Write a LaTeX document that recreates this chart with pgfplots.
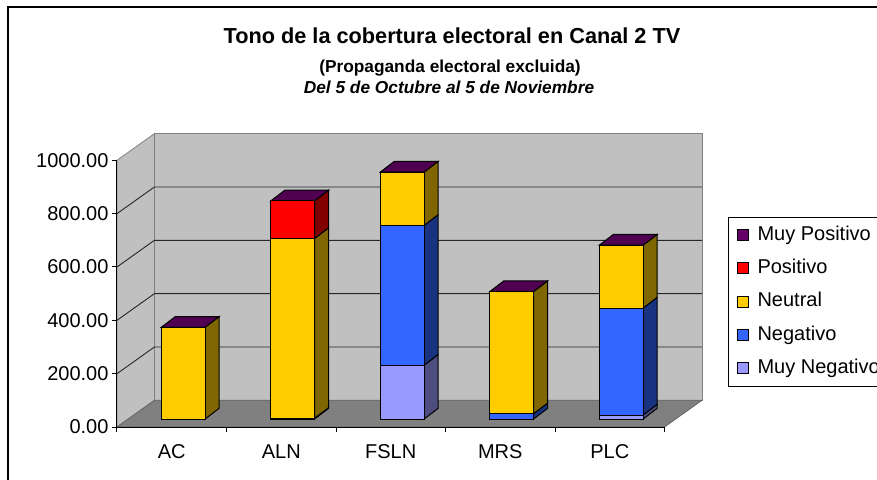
\documentclass[border=0pt]{standalone}
\usepackage{fontspec}
\setmainfont{Liberation Sans}
\usepackage{pgfplots}
\pgfplotsset{compat=1.18}
\usepackage{pgfplotstable}
\usetikzlibrary{calc}

\definecolor{mpos}{HTML}{660066}
\definecolor{mpostop}{HTML}{500050}
\definecolor{pos}{HTML}{FF0000}
\definecolor{posd}{HTML}{800000}
\definecolor{neu}{HTML}{FFCC00}
\definecolor{neud}{HTML}{806600}
\definecolor{neg}{HTML}{3366FF}
\definecolor{negd}{HTML}{1A3380}
\definecolor{mneg}{HTML}{9999FF}
\definecolor{mnegd}{HTML}{4D4D80}
\definecolor{wall}{HTML}{C0C0C0}
\definecolor{floorc}{HTML}{808080}

% values per party: AC, ALN, FSLN, MRS, PLC (base = depth offset of the bar front)
\pgfplotstableread{
cat base mneg neg neu pos mpos
0   30   0    0   344 0   0
1   30   0    3   674 141 0
2   30   202  524 200 0   0
3   30   0    20  458 0   0
4   30   15   401 236 0   0
}\data

\begin{document}
\begin{tikzpicture}[x=1pt,y=1pt]
\begin{axis}[
  scale only axis,
  width=547.5pt, height=266.7pt,
  xmin=-0.5, xmax=4.5, ymin=0, ymax=1000, clip=false,
  axis on top,
  axis x line=bottom, axis y line=left,
  axis line style={-, line width=1pt, black},
  tick align=outside, major tick length=5pt,
  tick style={black, line width=1pt},
  ytick={0,200,...,1000},
  xtick={-0.5,0.5,...,4.5},
  xticklabels={AC,ALN,FSLN,MRS,PLC},
  x tick label as interval,
  tick label style={font=\fontsize{20}{24}\selectfont},
  xticklabel style={yshift=-9pt},
  yticklabel style={/pgf/number format/.cd, fixed, fixed zerofill, precision=2, 1000 sep={}, assume math mode=true},
]
\coordinate (O) at (axis cs:-0.5,0);
% walls and floor
\addplot[fill=wall, draw=floorc, line width=0.8pt] coordinates {(-0.158,100) (4.842,100) (4.842,1100) (-0.158,1100)} -- cycle;
\addplot[fill=wall, draw=floorc, line width=0.8pt] coordinates {(-0.5,0) (-0.158,100) (-0.158,1100) (-0.5,1000)} -- cycle;
\addplot[fill=floorc, draw=black!60, line width=0.8pt] coordinates {(-0.5,0) (4.5,0) (4.842,100) (-0.158,100)} -- cycle;
% gridlines
\addplot[black!85, line width=0.9pt] coordinates {(-0.5,200) (-0.158,300) (4.842,300)};
\addplot[black!85, line width=0.9pt] coordinates {(-0.5,400) (-0.158,500) (4.842,500)};
\addplot[black!85, line width=0.9pt] coordinates {(-0.5,600) (-0.158,700) (4.842,700)};
\addplot[black!85, line width=0.9pt] coordinates {(-0.5,800) (-0.158,900) (4.842,900)};
% side faces
\addplot[fill=neud, draw=black, line width=1pt] coordinates {(0.305,30) (0.433,70) (0.433,414) (0.305,374)} -- cycle;
\addplot[fill=negd, draw=black, line width=1pt] coordinates {(1.305,30) (1.433,70) (1.433,73) (1.305,33)} -- cycle;
\addplot[fill=neud, draw=black, line width=1pt] coordinates {(1.305,33) (1.433,73) (1.433,747) (1.305,707)} -- cycle;
\addplot[fill=posd, draw=black, line width=1pt] coordinates {(1.305,707) (1.433,747) (1.433,888) (1.305,848)} -- cycle;
\addplot[fill=mnegd, draw=black, line width=1pt] coordinates {(2.305,30) (2.433,70) (2.433,272) (2.305,232)} -- cycle;
\addplot[fill=negd, draw=black, line width=1pt] coordinates {(2.305,232) (2.433,272) (2.433,796) (2.305,756)} -- cycle;
\addplot[fill=neud, draw=black, line width=1pt] coordinates {(2.305,756) (2.433,796) (2.433,996) (2.305,956)} -- cycle;
\addplot[fill=negd, draw=black, line width=1pt] coordinates {(3.305,30) (3.433,70) (3.433,90) (3.305,50)} -- cycle;
\addplot[fill=neud, draw=black, line width=1pt] coordinates {(3.305,50) (3.433,90) (3.433,548) (3.305,508)} -- cycle;
\addplot[fill=mnegd, draw=black, line width=1pt] coordinates {(4.305,30) (4.433,70) (4.433,85) (4.305,45)} -- cycle;
\addplot[fill=negd, draw=black, line width=1pt] coordinates {(4.305,45) (4.433,85) (4.433,486) (4.305,446)} -- cycle;
\addplot[fill=neud, draw=black, line width=1pt] coordinates {(4.305,446) (4.433,486) (4.433,722) (4.305,682)} -- cycle;
% top faces
\addplot[fill=mpostop, draw=black, line width=1pt] coordinates {(-0.095,374) (0.305,374) (0.433,414) (0.033,414)} -- cycle;
\addplot[fill=mpostop, draw=black, line width=1pt] coordinates {(0.905,848) (1.305,848) (1.433,888) (1.033,888)} -- cycle;
\addplot[fill=mpostop, draw=black, line width=1pt] coordinates {(1.905,956) (2.305,956) (2.433,996) (2.033,996)} -- cycle;
\addplot[fill=mpostop, draw=black, line width=1pt] coordinates {(2.905,508) (3.305,508) (3.433,548) (3.033,548)} -- cycle;
\addplot[fill=mpostop, draw=black, line width=1pt] coordinates {(3.905,682) (4.305,682) (4.433,722) (4.033,722)} -- cycle;
\end{axis}

\begin{axis}[
  scale only axis,
  width=547.5pt, height=266.7pt,
  xmin=-0.5, xmax=4.5, ymin=0, ymax=1000, clip=false,
  hide axis,
  ybar stacked, bar width=0.4, bar shift=0.105,
  reverse legend,
  legend cell align=left,
  legend style={at={(axis description cs:1.116,0.7886)}, anchor=north west,
    font=\fontsize{20}{24}\selectfont, draw=black, line width=1pt, fill=white,
    inner xsep=8pt, inner ysep=9pt, row sep=15.3pt, column sep=0pt,
    nodes={inner sep=0pt, text height=14pt, text depth=4pt}},
  sq/.style={legend image code/.code={\draw[##1, draw=black, line width=1pt] (0pt,-5.5pt) rectangle (11pt,5.5pt); \path (20pt,0pt);}},
]
\addplot[draw=none, fill=none, forget plot] table[x=cat,y=base]{\data};
\addplot[fill=mneg, draw=black, line width=1pt, sq] table[x=cat,y=mneg]{\data};
\addplot[fill=neg, draw=black, line width=1pt, sq] table[x=cat,y=neg]{\data};
\addplot[fill=neu, draw=black, line width=1pt, sq] table[x=cat,y=neu]{\data};
\addplot[fill=pos, draw=black, line width=1pt, sq] table[x=cat,y=pos]{\data};
\addplot[fill=mpos, draw=black, line width=1pt, sq] table[x=cat,y=mpos]{\data};
\legend{Muy Negativo,Negativo,Neutral,Positivo,Muy Positivo}
\end{axis}

\pgfresetboundingbox
\useasboundingbox ($(O)+(-117,-52)$) rectangle ($(O)+(760,427)$);
\draw[line width=1.5pt] ($(O)+(-109,-80)$) -- ($(O)+(-109,420)$) -- ($(O)+(800,420)$);
\node[anchor=base, font=\bfseries\fontsize{21.7}{26}\selectfont] at ($(O)+(335,383)$) {Tono de la cobertura electoral en Canal 2 TV};
\node[anchor=base, font=\bfseries\fontsize{17.3}{20}\selectfont] at ($(O)+(333,354)$) {(Propaganda electoral excluida)};
\node[anchor=base, font=\bfseries\itshape\fontsize{17.3}{20}\selectfont] at ($(O)+(332,333)$) {Del 5 de Octubre al 5 de Noviembre};
\end{tikzpicture}
\end{document}
